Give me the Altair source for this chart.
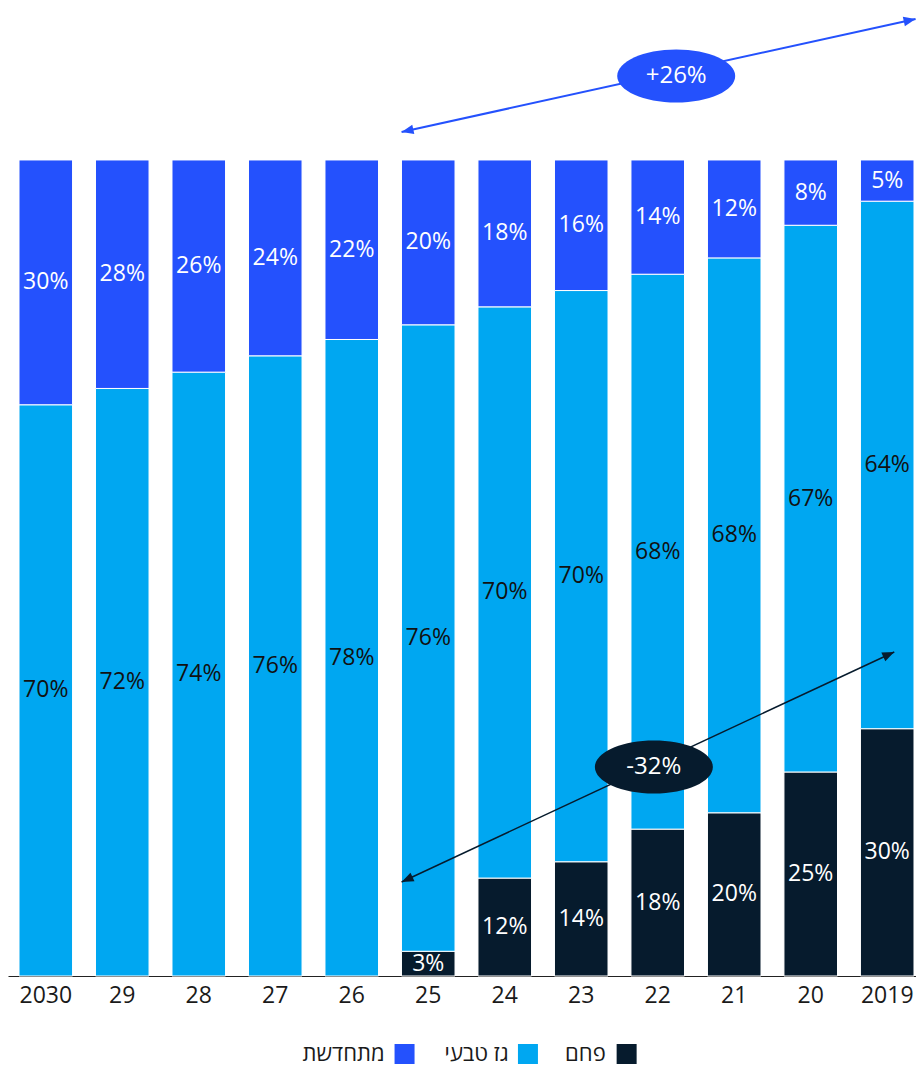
import altair as alt
import pandas as pd

# ---------------- data ----------------
years = ["2030", "29", "28", "27", "26", "25", "24", "23", "22", "21", "20", "2019"]
coal = [0, 0, 0, 0, 0, 3, 12, 14, 18, 20, 25, 30]
gas = [70, 72, 74, 76, 78, 76, 70, 70, 68, 68, 67, 64]
renew = [30, 28, 26, 24, 22, 20, 18, 16, 14, 12, 8, 5]
series_names = ["פחם", "גז טבעי", "מתחדשת"]
change_labels = ["+26%", "-32%"]

# ---------------- styles ----------------
FONT = "Open Sans"
series_colors = ["#061b2d", "#00a7f1", "#2451fd"]
label_colors = ["#ffffff", "#111111", "#ffffff"]
W, H = 908, 963
YMAX = 1.1801
XDOM = [-0.4937, 11.3756]
LEG_Y = -0.0956

rows = []
for i, yr in enumerate(years):
    for k, vals in enumerate([coal, gas, renew]):
        rows.append(dict(year=yr, series=series_names[k], order=k, value=vals[i],
                         color=series_colors[k], lc=label_colors[k]))
df = pd.DataFrame(rows)

base = (
    alt.Chart(df)
    .transform_filter("datum.value > 0")
    .transform_stack(stack="value", groupby=["year"],
                     sort=[alt.SortField("order", "ascending")],
                     offset="normalize", as_=["y0", "y1"])
    .transform_calculate(ym="(datum.y0 + datum.y1) / 2", label="datum.value + '%'")
)

yscale = alt.Scale(domain=[0, YMAX], nice=False, zero=False)
xband = alt.X("year:N", sort=years, title=None,
              scale=alt.Scale(paddingInner=0.3, paddingOuter=0.085, align=0.846),
              axis=alt.Axis(labelAngle=0, labelFontSize=23, labelFont=FONT,
                            labelColor="#1a1a1a", ticks=False, domainColor="#222222",
                            domainWidth=1.2, labelPadding=8, grid=False))

bars = base.mark_bar(stroke="white", strokeWidth=1).encode(
    x=xband,
    y=alt.Y("y0:Q", scale=yscale, axis=None),
    y2="y1:Q",
    color=alt.Color("color:N", scale=None),
)
texts = base.mark_text(fontSize=23, font=FONT).encode(
    x=xband,
    y=alt.Y("ym:Q", scale=yscale, axis=None),
    text="label:N",
    color=alt.Color("lc:N", scale=None),
)
barlayer = alt.layer(bars, texts)

# ---------------- annotations (in bar-index / share units) ----------------
xlin = alt.Scale(domain=XDOM, nice=False, zero=False)
ARROW = "M0,0L-2,-0.8L-2,0.8Z"
ELLIPSE = "M-1,0A1,0.45,0,1,1,1,0A1,0.45,0,1,1,-1,0Z"

arrows = pd.DataFrame(dict(
    x=[4.651, 4.651], y=[1.0343, 0.1152], x2=[11.37, 11.091], y2=[1.1728, 0.3971],
    c=["#2451fd", "#061b2d"], w=[2, 1.5]))
heads = pd.DataFrame(dict(
    x=[4.651, 11.37, 4.651, 11.091], y=[1.0343, 1.1728, 0.1152, 0.3971],
    ang=[167.7, 347.7, 155.4, 335.4], c=["#2451fd", "#2451fd", "#061b2d", "#061b2d"]))
ells = pd.DataFrame(dict(x=[8.241, 7.949], y=[1.1029, 0.2561],
                         c=["#2451fd", "#061b2d"], t=change_labels))
leg = pd.DataFrame(dict(xs=[7.593, 6.303, 4.690], xt=[7.32, 6.05, 4.43],
                        y=[LEG_Y] * 3, c=series_colors, t=series_names))

rules = alt.Chart(arrows).mark_rule().encode(
    x=alt.X("x:Q", scale=xlin, axis=None), y=alt.Y("y:Q", scale=yscale, axis=None),
    x2="x2:Q", y2="y2:Q",
    color=alt.Color("c:N", scale=None), strokeWidth=alt.StrokeWidth("w:Q", scale=None))
arrowheads = alt.Chart(heads).mark_point(shape=ARROW, filled=True, size=144, opacity=1,
                                         strokeWidth=0).encode(
    x=alt.X("x:Q", scale=xlin, axis=None), y=alt.Y("y:Q", scale=yscale, axis=None),
    angle=alt.Angle("ang:Q", scale=None), color=alt.Color("c:N", scale=None))
ellipses = alt.Chart(ells).mark_point(shape=ELLIPSE, filled=True, size=118 * 118,
                                      opacity=1, strokeWidth=0).encode(
    x=alt.X("x:Q", scale=xlin, axis=None), y=alt.Y("y:Q", scale=yscale, axis=None),
    color=alt.Color("c:N", scale=None))
etexts = alt.Chart(ells).mark_text(fontSize=24, font=FONT, color="white").encode(
    x=alt.X("x:Q", scale=xlin, axis=None), y=alt.Y("y:Q", scale=yscale, axis=None),
    text="t:N")
legsq = alt.Chart(leg).mark_square(size=400, opacity=1, strokeWidth=0).encode(
    x=alt.X("xs:Q", scale=xlin, axis=None), y=alt.Y("y:Q", scale=yscale, axis=None),
    color=alt.Color("c:N", scale=None))
legtx = alt.Chart(leg).mark_text(fontSize=22, font=FONT, align="right",
                                 color="#1a1a1a").encode(
    x=alt.X("xt:Q", scale=xlin, axis=None), y=alt.Y("y:Q", scale=yscale, axis=None),
    text="t:N")
annot = alt.layer(rules, arrowheads, ellipses, etexts, legsq, legtx)

chart = (
    alt.layer(barlayer, annot)
    .resolve_scale(x="independent")
    .properties(width=W, height=H,
                padding={"left": 0, "top": 5, "right": 0, "bottom": 92},
                autosize=alt.AutoSizeParams(type="none"))
    .configure_view(stroke=None)
)

chart.save("out.html", embed_options={"renderer": "svg", "actions": False})
